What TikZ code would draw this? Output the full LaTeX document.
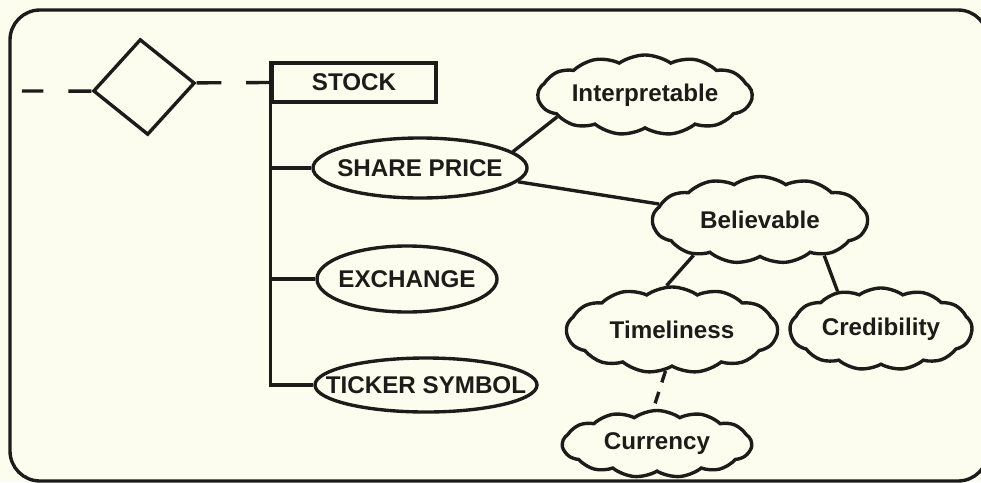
\documentclass[tikz,border=0pt]{standalone}
\usepackage{fontspec}
\setmainfont{Liberation Sans}
\usetikzlibrary{shapes.geometric,shapes.symbols}
\definecolor{paper}{HTML}{FDFDEF}
\definecolor{ink}{HTML}{1C1C18}

\begin{document}
\begin{tikzpicture}[x=0.025cm,y=-0.025cm,line width=2.4pt,color=ink,
    font=\fontsize{17.2}{20}\selectfont\bfseries]
	\tikzstyle{attr} = [draw,shape=ellipse,inner ysep=0pt,inner xsep=-0.2cm]
	\tikzstyle{quality} = [draw,shape=cloud,cloud puffs=13,cloud puff arc=70,cloud ignores aspect,inner sep=0pt]
	\useasboundingbox (0,0) rectangle (981,482);
	\fill[paper] (0,0) rectangle (981,482);
	\draw[rounded corners=0.75cm] (10,10) rectangle (988,481);
	
	\node[draw,diamond,rotate=4.5,minimum width=2.55cm,minimum height=2.4cm,inner sep=0pt] (entity) at (144,87) {};
	\coordinate (inlet) at (22,91);
	
	\node[draw,rectangle,minimum width=4.1cm,minimum height=0.975cm,inner sep=0pt] (stock) at (354,82.5) {STOCK};
	
	\node[attr,minimum width=5.35cm,minimum height=1.5cm] (shareprice) at (420,168) {SHARE PRICE};
	\node[attr,minimum width=4.5cm,minimum height=1.65cm] (exchange) at (407,279) {EXCHANGE};
	\node[attr,inner xsep=-0.55cm,minimum width=5.55cm,minimum height=1.35cm] (ticker) at (426,385) {TICKER SYMBOL};
	
	\node[quality,minimum width=5.35cm,minimum height=2cm] (interp) at (645,95) {Interpretable};
	\node[quality,minimum width=5.375cm,minimum height=2.175cm] (believ) at (760,220) {Believable};
	\node[quality,minimum width=5.275cm,minimum height=2.15cm] (timely) at (672,330) {Timeliness};
	\node[quality,minimum width=4.55cm,minimum height=2.05cm] (cred) at (881,329) {Credibility};
	\node[quality,minimum width=4.725cm,minimum height=1.675cm] (curr) at (657,444) {Currency};
	
	\draw[dash pattern=on 0.575cm off 0.625cm] (entity.west) -- (inlet);
	\draw[dash pattern=on 0.62cm off 0.62cm] (entity.east) -- (stock.west);
	\draw (stock.north west) -- (stock.north west |- ticker.west) -- (ticker.west);
	\draw (stock.north west |- shareprice.west) -- (shareprice.west);
	\draw (stock.north west |- exchange.west) -- (exchange.west);
	
	\draw (shareprice.10) -- (interp.194);
	\draw (shareprice.-8) -- (believ.171);
	\draw (believ.208) -- (timely.97);
	\draw (believ.331) -- (cred.139);
	\draw[dash pattern=on 0.3cm off 0.25cm] (timely.261) -- (curr.96);
	
\end{tikzpicture}
\end{document}
